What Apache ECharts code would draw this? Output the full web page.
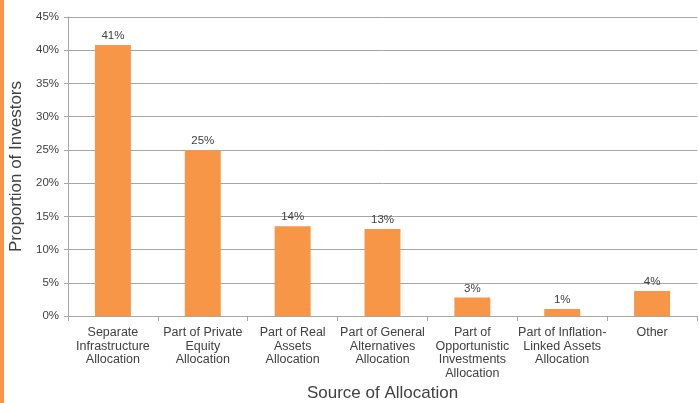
<!DOCTYPE html>
<html>
<head>
<meta charset="utf-8">
<script src="https://cdn.jsdelivr.net/npm/echarts@6/dist/echarts.min.js"></script>
<style>
    html, body {margin: 0; padding: 0; background: #fff;}
    #chart {width: 699px; height: 403px;}
</style>
</head>
<body>
<div id="chart"></div>
<script>
    var categories = [
        'Separate\nInfrastructure\nAllocation',
        'Part of Private\nEquity\nAllocation',
        'Part of Real\nAssets\nAllocation',
        'Part of General\nAlternatives\nAllocation',
        'Part of\nOpportunistic\nInvestments\nAllocation',
        'Part of Inflation-\nLinked Assets\nAllocation',
        'Other'
    ];
    var shares = [40.8, 25.0, 13.5, 13.1, 2.8, 1.05, 3.76];
    var shareLabels = ['41%', '25%', '14%', '13%', '3%', '1%', '4%'];

    var font = 'Liberation Sans';
    var myChart = echarts.init(document.getElementById('chart'));
    var option = {
        animation: false,
        textStyle: {fontFamily: font},
        graphic: [{
            type: 'rect',
            left: 0, top: 0,
            shape: {width: 4, height: 403},
            style: {fill: '#F79646'}
        }],
        grid: {left: 68, right: 2, top: 17, bottom: 87, outerBoundsMode: 'none', containLabel: false},
        xAxis: {
            type: 'category',
            data: categories,
            name: 'Source of Allocation',
            nameLocation: 'middle',
            nameGap: 64,
            nameTextStyle: {fontSize: 17, color: '#404040', fontFamily: font},
            axisLine: {lineStyle: {color: '#a6a6a6'}},
            axisTick: {show: true, alignWithLabel: false, length: 5, lineStyle: {color: '#a6a6a6'}},
            axisLabel: {fontSize: 12.5, color: '#404040', lineHeight: 13.5, margin: 10, interval: 0, fontFamily: font}
        },
        yAxis: {
            type: 'value',
            min: 0, max: 45, interval: 5,
            name: 'Proportion of Investors',
            nameLocation: 'middle',
            nameGap: 40,
            nameTextStyle: {fontSize: 17, color: '#404040', fontFamily: font},
            axisLine: {show: true, lineStyle: {color: '#a6a6a6'}},
            axisTick: {show: true, length: 4, lineStyle: {color: '#a6a6a6'}},
            splitLine: {lineStyle: {color: '#a6a6a6'}},
            axisLabel: {fontSize: 11.5, color: '#404040', margin: 9, formatter: '{value}%', fontFamily: font}
        },
        series: [{
            type: 'bar',
            data: shares,
            barWidth: '40%',
            itemStyle: {color: '#F79646'},
            label: {
                show: true,
                position: 'top',
                distance: 3,
                fontSize: 11.5,
                color: '#404040',
                fontFamily: font,
                formatter: function (p) { return shareLabels[p.dataIndex]; }
            }
        }]
    };
    myChart.setOption(option);
</script>
</body>
</html>
